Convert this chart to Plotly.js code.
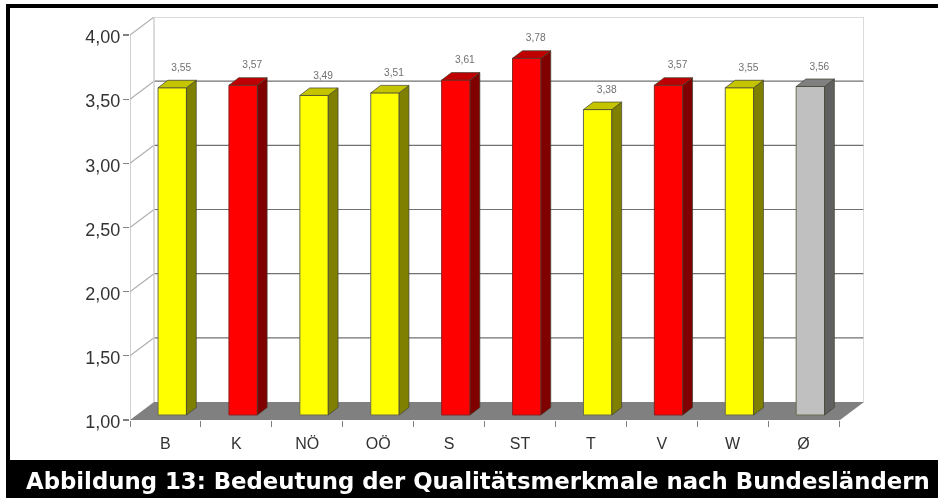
<!DOCTYPE html>
<html><head><meta charset="utf-8">
<script src="https://cdn.plot.ly/plotly-3.0.1.min.js"></script>
<style>html,body{margin:0;padding:0;background:#fff}#chart{filter:blur(0.4px)}</style></head>
<body><div id="chart" style="width:938px;height:499px"></div>
<script>
const categories = ['B','K','NÖ','OÖ','S','ST','T','V','W','Ø'];
const values = [3.55,3.57,3.49,3.51,3.61,3.78,3.38,3.57,3.55,3.56];
const groups = ['y','r','y','y','r','r','y','r','y','g'];
const yTicks = [1,1.5,2,2.5,3,3.5,4];
const titleText = 'Abbildung 13: Bedeutung der Qualitätsmerkmale nach Bundesländern';

const W=938,H=499;
const x0=130,y0=420,catW=70.9,unit=128.33;
const wallX=24,wallY=18,plotR=864,plotT=17;
const dX=p=>p/catW, dY=p=>p/unit;
const xMax=dX(plotR-x0), yMax=1+dY(y0-plotT);
const barW=dX(28.4), sx=dX(6.8), sy=dY(5), depX=dX(9.8), depY=dY(7.5);

const fills={y:['#ffff00','#808000','#c4c400'],r:['#ff0000','#800000','#c00000'],g:['#c0c0c0','#606060','#808080']};

const cx=categories.map((c,i)=>i+0.5+sx);
const traces=[{
  type:'bar',x:cx,y:values.map(v=>v-1),base:values.map(()=>1+sy),width:barW,
  marker:{color:groups.map(g=>fills[g][0]),line:{color:groups.map(g=>g==='r'?'#8a2020':'#6a6a50'),width:1}},
  hoverinfo:'skip',showlegend:false
}];
['y','r','g'].forEach(g=>{
  const sideX=[],sideY=[],topX=[],topY=[];
  values.forEach((v,i)=>{
    if(groups[i]!==g)return;
    const l=cx[i]-barW/2,r=cx[i]+barW/2,b=1+sy,t=v+sy;
    sideX.push(r,r+depX,r+depX,r,r,null);
    sideY.push(b,b+depY,t+depY,t,b,null);
    topX.push(l,r,r+depX,l+depX,l,null);
    topY.push(t,t,t+depY,t+depY,t,null);
  });
  traces.push({type:'scatter',mode:'lines',x:sideX,y:sideY,fill:'toself',fillcolor:fills[g][1],line:{color:'#404030',width:0.7},hoverinfo:'skip',showlegend:false});
  traces.push({type:'scatter',mode:'lines',x:topX,y:topY,fill:'toself',fillcolor:fills[g][2],line:{color:'#404030',width:0.7},hoverinfo:'skip',showlegend:false});
});
traces.push({
  type:'scatter',mode:'text',x:cx.map(c=>c+dX(9)),
  y:values.map(v=>v+sy+depY+dY(12)),
  text:values.map(v=>v.toFixed(2).replace('.',',')),
  textposition:'middle center',textfont:{family:'Liberation Sans',size:10.2,color:'#707070'},
  hoverinfo:'skip',showlegend:false,cliponaxis:false
});

const shapes=[];
const wx=dX(wallX),wy=dY(wallY);
const ln=(x1,y1,x2,y2,c,w)=>shapes.push({type:'line',xref:'x',yref:'y',x0:x1,y0:y1,x1:x2,y1:y2,line:{color:c,width:w||1},layer:'below'});
shapes.push({type:'path',xref:'x',yref:'y',layer:'below',line:{width:0},fillcolor:'#808080',
  path:`M0,1 L${wx},${1+wy} L${xMax},${1+wy} L${xMax-wx},1 Z`});
yTicks.slice(1).forEach(v=>{
  ln(0,v,wx,v+wy,'#b0b0b0',1.2);
  ln(wx,v+wy,xMax,v+wy,v===4?'#cfcfcf':'#707070',v===4?1.5:1.2);
});
ln(0,1,0,4,'#b0b0b0',1.2);
ln(wx,1+wy,wx,4+wy,'#cfcfcf',1.5);
ln(xMax,1+wy,xMax,4+wy,'#cfcfcf',1.5);

const rect=(a,t,b,u)=>shapes.push({type:'rect',xref:'paper',yref:'paper',x0:a/W,x1:b/W,y0:1-t/H,y1:1-u/H,fillcolor:'#000',line:{width:0},layer:'above'});
rect(6,4,938,8);
rect(6,4,10,498);
rect(6,460,938,498);

const layout={
  width:W,height:H,margin:{l:0,r:0,t:0,b:0},paper_bgcolor:'#fff',plot_bgcolor:'rgba(0,0,0,0)',
  separators:',.',showlegend:false,barmode:'overlay',
  xaxis:{domain:[x0/W,plotR/W],range:[0,xMax],showgrid:false,zeroline:false,showline:false,
    tickmode:'array',tickvals:categories.map((c,i)=>i+0.5),ticktext:categories,ticks:'outside',ticklen:6,tickcolor:'rgba(0,0,0,0)',
    tickfont:{family:'Liberation Sans',size:16,color:'#333'},ticklabelstandoff:3,
    minor:{tickmode:'array',tickvals:categories.map((c,i)=>i).concat([categories.length]),ticks:'outside',ticklen:6,tickcolor:'#808080',tickwidth:1,showgrid:false}},
  yaxis:{domain:[1-y0/H,1-plotT/H],range:[1,yMax],showgrid:false,zeroline:false,showline:false,
    tickmode:'array',tickvals:yTicks,tickformat:'.2f',ticks:'outside',ticklen:6,tickcolor:'#808080',tickwidth:1.2,
    tickfont:{family:'Liberation Sans',size:18,color:'#333'},ticklabelshift:2,ticklabelstandoff:-1},
  shapes,
  annotations:[{xref:'paper',yref:'paper',x:24/W,y:1-480.5/H,xanchor:'left',yanchor:'middle',showarrow:false,
    text:'<b>'+titleText+'</b>',font:{family:'DejaVu Sans',size:22.8,color:'#fff'}}]
};
Plotly.newPlot('chart',traces,layout,{displayModeBar:false,staticPlot:true});
</script></body></html>
